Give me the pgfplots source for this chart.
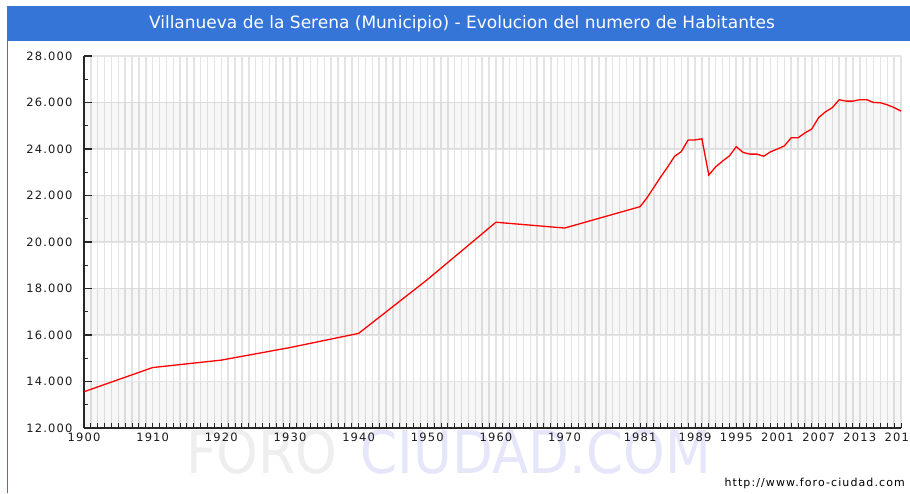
\documentclass[border=0pt]{standalone}
\usepackage{fontspec}
\setmainfont{DejaVu Sans}
\newfontfamily\tickfont[LetterSpace=10]{DejaVu Sans}
\usepackage{pgfplots}
\pgfplotsset{compat=1.18}
\definecolor{titleblue}{RGB}{53,117,216}
\definecolor{gridc}{RGB}{228,228,228}
\definecolor{axisc}{RGB}{40,40,40}
\definecolor{wmgray}{RGB}{238,238,238}
\definecolor{wmblue}{RGB}{230,230,250}
\begin{document}
\begin{tikzpicture}
\useasboundingbox (0pt,0pt) rectangle (910pt,493pt);
\fill[titleblue] (7pt,451.5pt) rectangle (910pt,487pt);
\draw[titleblue, line width=1.5pt] (7.5pt,0pt) -- (7.5pt,452pt);
\node[white, font=\fontsize{17}{19}\selectfont] at (462pt,469pt) {Villanueva de la Serena (Municipio) - Evolucion del numero de Habitantes};
\node[anchor=base west, inner sep=0pt, font=\fontsize{59}{62}\selectfont] at (186pt,20pt) {\scalebox{0.9}[1]{\textcolor{wmgray}{FORO}\hspace{0.12em} \textcolor{wmblue}{CIUDAD.COM}}};
\node[anchor=base east, inner sep=0pt, font=\tickfont\fontsize{11}{12}\selectfont] at (905pt,7pt) {http://www.foro-ciudad.com};
\begin{axis}[
  at={(84pt,65pt)}, anchor=south west,
  scale only axis, width=817pt, height=372pt,
  xmin=1900, xmax=2019, ymin=12000, ymax=28000,
  axis x line*=bottom, axis y line*=left,
  axis line style={axisc, line width=1.5pt},
  axis background/.style={fill=white},
  tick align=inside,
  scaled y ticks=false, scaled x ticks=false,
  xtick={1900,1910,1920,1930,1940,1950,1960,1970,1981,1989,1995,2001,2007,2013,2019},
  xticklabels={1900,1910,1920,1930,1940,1950,1960,1970,1981,1989,1995,2001,2007,2013,2019},
  minor xtick={1900,1901,...,2019},
  ytick={12000,14000,...,28000},
  yticklabels={12.000,14.000,16.000,18.000,20.000,22.000,24.000,26.000,28.000},
  minor ytick={13000,15000,...,27000},
  xtick style={axisc, line width=1pt, /pgfplots/major tick length=5pt, /pgfplots/minor tick length=5pt},
  ytick style={axisc, line width=1.2pt, /pgfplots/major tick length=8pt, /pgfplots/minor tick length=4pt},
  xmajorgrids, xminorgrids, ymajorgrids,
  major grid style={gridc, line width=1.5pt},
  minor grid style={gridc, line width=1.5pt},
  ticklabel style={font=\tickfont\fontsize{11.5}{12}\selectfont, text=black!90},
  yticklabel style={xshift=-8pt},
  xticklabel style={yshift=-1pt},
  clip=false,
]
\fill[black, fill opacity=0.032] (axis cs:1900,12000) rectangle (axis cs:2019,14000);
\fill[black, fill opacity=0.032] (axis cs:1900,16000) rectangle (axis cs:2019,18000);
\fill[black, fill opacity=0.032] (axis cs:1900,20000) rectangle (axis cs:2019,22000);
\fill[black, fill opacity=0.032] (axis cs:1900,24000) rectangle (axis cs:2019,26000);
\addplot[color=red, line width=1.3pt, mark=none] table {
year pop
1900 13560
1910 14600
1920 14920
1930 15460
1940 16070
1950 18380
1960 20850
1970 20600
1981 21520
1982 21900
1983 22350
1984 22800
1985 23220
1986 23680
1987 23890
1988 24390
1989 24390
1990 24440
1991 22880
1992 23230
1993 23480
1994 23700
1995 24100
1996 23850
1997 23780
1998 23780
1999 23690
2000 23880
2001 24000
2002 24130
2003 24480
2004 24480
2005 24690
2006 24860
2007 25350
2008 25600
2009 25780
2010 26120
2011 26060
2012 26060
2013 26120
2014 26120
2015 26000
2016 25990
2017 25900
2018 25780
2019 25630
};
\end{axis}
\end{tikzpicture}
\end{document}
